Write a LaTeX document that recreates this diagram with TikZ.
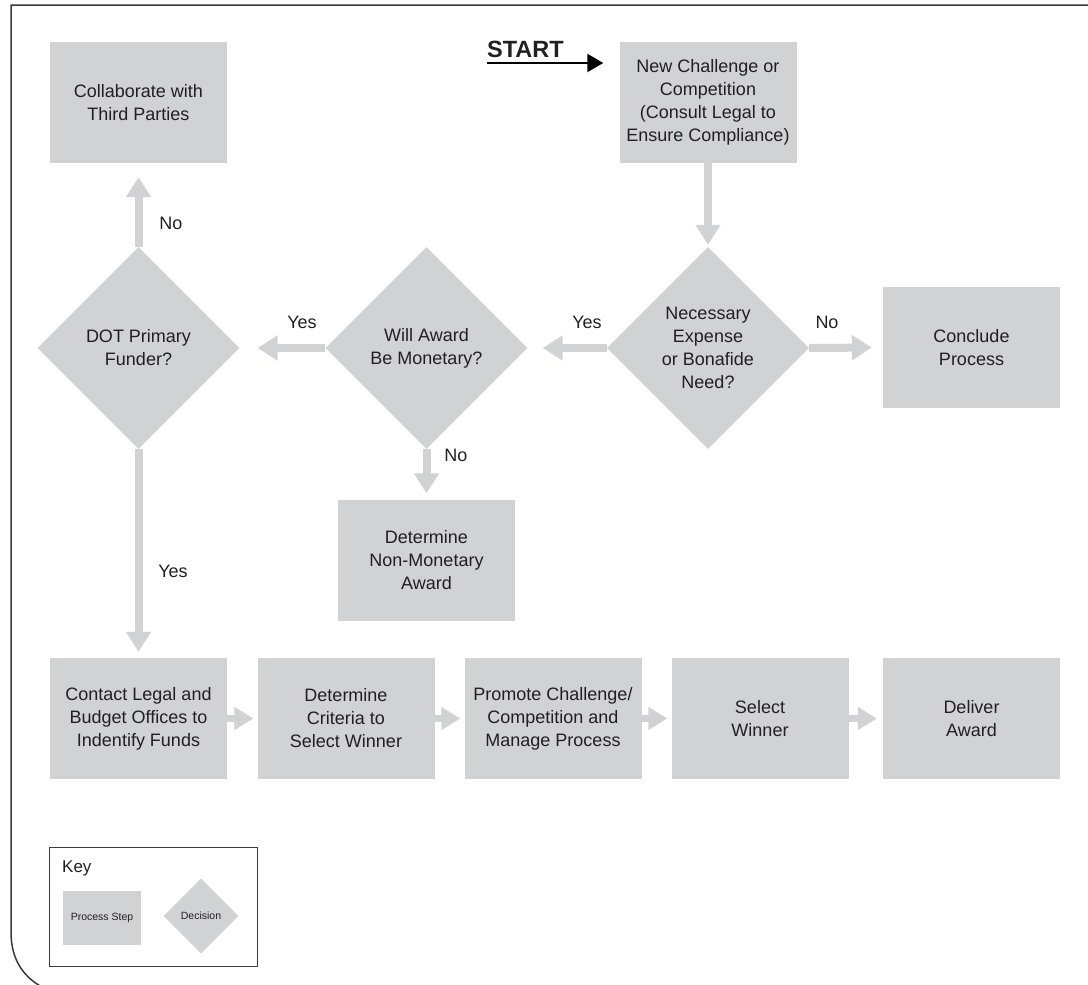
\documentclass[tikz,border=0pt]{standalone}
\usepackage{fontspec}
\setmainfont{Liberation Sans}
\usetikzlibrary{shapes.geometric,arrows.meta}
\definecolor{boxgray}{HTML}{D1D2D4}
\definecolor{txt}{HTML}{231F20}
\definecolor{frame}{HTML}{3A3A3A}
\begin{document}
\begin{tikzpicture}[x=1pt,y=-1pt,
  font=\fontsize{18}{23}\selectfont, text=txt,
  proc/.style={fill=boxgray, minimum width=177pt, minimum height=121pt, inner sep=0pt, align=center},
  dec/.style={diamond, aspect=1, fill=boxgray, minimum width=202pt, minimum height=202pt, inner sep=0pt,
     label={[align=center, text=txt]center:#1}},
  flow/.style={draw=boxgray, line width=8pt, -{Triangle[length=20pt,width=24pt]}},
  sflow/.style={draw=boxgray, line width=7pt, -{Triangle[length=19pt,width=22pt]}},
  lbl/.style={inner sep=0pt}
]
\useasboundingbox (0,0) rectangle (1088,985);
% frame
\draw[frame, line width=1.5pt] (1092,5) -- (11,5) -- (11,932) .. controls (11,958) and (22,976) .. (42,987);

% nodes
\node[proc] (collab) at (138.5,102.5) {Collaborate with\\Third Parties};
\node[proc] (newch) at (708,102.5) {New Challenge or\\Competition\\(Consult Legal to\\Ensure Compliance)};
\node[dec={Necessary\\Expense\\or Bonafide\\Need?}] (dec1) at (708,348) {};
\node[proc] (conclude) at (971.5,347.5) {Conclude\\Process};
\node[dec={Will Award\\Be Monetary?}] (dec2) at (426.5,348) {};
\node[dec={DOT Primary\\Funder?}] (dec3) at (138.5,348) {};
\node[proc] (nonmon) at (426.5,560) {Determine\\Non-Monetary\\Award};
\node[proc] (contact) at (138.5,718.5) {Contact Legal and\\Budget Offices to\\Indentify Funds};
\node[proc] (criteria) at (346,718.5) {Determine\\Criteria to\\Select Winner};
\node[proc] (promote) at (553,718.5) {Promote Challenge/\\Competition and\\Manage Process};
\node[proc] (select) at (760,718.5) {Select\\Winner};
\node[proc] (deliver) at (971.5,718.5) {Deliver\\Award};

% start
\node[lbl, anchor=base west, font=\fontsize{23.5}{26}\bfseries\selectfont] (start) at (487,57) {START};
\coordinate (startl) at (487,63);
\draw[line width=2pt, -{Triangle[length=16pt,width=18pt]}, black] (startl) -- (startl -| newch.west) [shorten >=16pt];

% flows
\draw[flow, shorten >=2pt] (newch.south) -- (dec1.north);
\draw[flow, shorten >=15pt] (dec1.west) -- (dec2.east);
\draw[flow, shorten >=11pt] (dec1.east) -- (conclude.west);
\draw[flow, shorten >=18pt] (dec2.west) -- (dec3.east);
\draw[flow, shorten >=14pt] (dec3.north) -- (collab.south);
\draw[flow, shorten >=6pt] (dec2.south) -- (nonmon.north);
\draw[flow, shorten >=6pt] (dec3.south) -- (contact.north);
\draw[sflow, shorten >=4pt] (contact.east) -- (criteria.west);
\draw[sflow, shorten >=4pt] (criteria.east) -- (promote.west);
\draw[sflow, shorten >=4pt] (promote.east) -- (select.west);
\draw[sflow, shorten >=6pt] (select.east) -- (deliver.west);

% labels
\node[lbl] (l1) at (587,322) {Yes};
\node[lbl] (l2) at (827,322) {No};
\node[lbl] (l3) at (302,322) {Yes};
\node[lbl] (l4) at (456,455) {No};
\node[lbl] (l5) at (171,223) {No};
\node[lbl] (l6) at (173,571) {Yes};

% key
\draw[frame, line width=0.8pt] (49,847) rectangle (257,966);
\node[lbl, anchor=base west, font=\fontsize{17}{20}\selectfont] (key) at (62,872) {Key};
\node[fill=boxgray, minimum width=78pt, minimum height=54pt, inner sep=0pt, font=\fontsize{10.5}{12}\selectfont] (kproc) at (102,917.5) {Process Step};
\node[diamond, aspect=1, fill=boxgray, minimum width=75pt, minimum height=75pt, inner sep=0pt,
   label={[font=\fontsize{10.5}{12}\selectfont, text=txt]center:Decision}] (kdec) at (201,916) {};
\end{tikzpicture}
\end{document}
